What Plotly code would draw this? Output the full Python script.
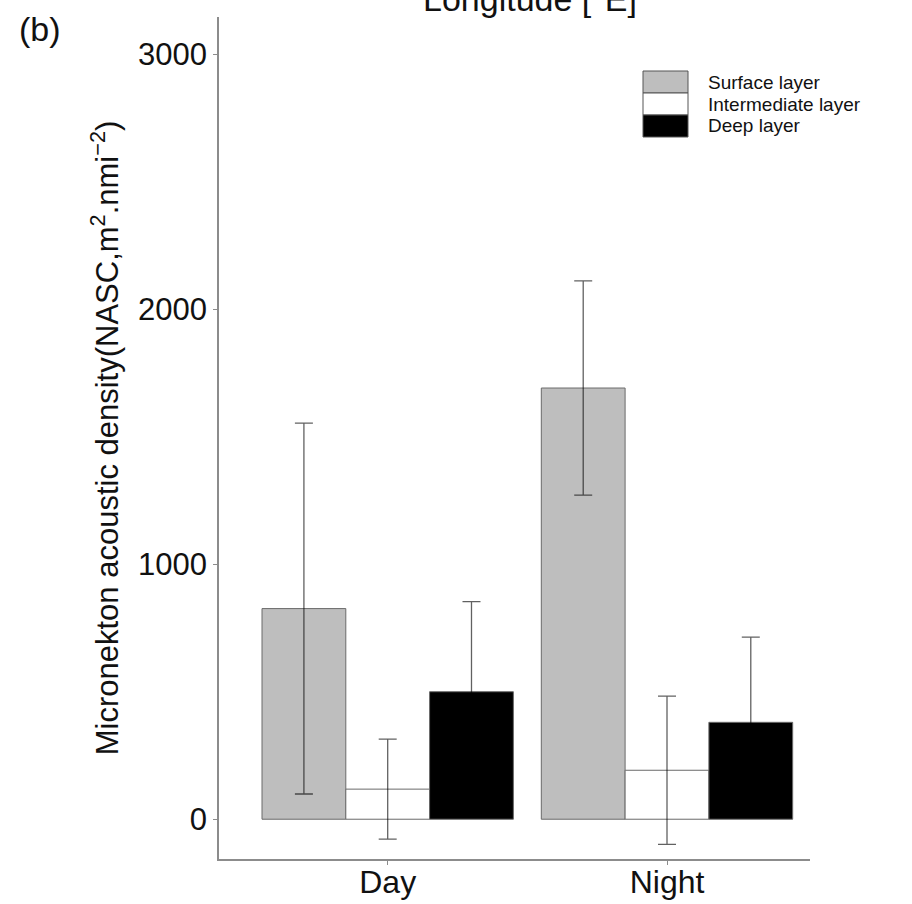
import plotly.graph_objects as go

categories = ["Day", "Night"]
layers = ["Surface layer", "Intermediate layer", "Deep layer"]
surface_mean = [826, 1691]
surface_sd = [727, 420]
intermediate_mean = [118, 192]
intermediate_sd = [196, 291]
deep_mean = [500, 380]
deep_sd = [353, 334]
fill_colors = ["#bebebe", "#ffffff", "#000000"]
y_ticks = [0, 1000, 2000, 3000]

FONT = "Liberation Sans, Arial, sans-serif"
W, H = 912, 904
L, R, T, B = 219, 102, 17, 45
pw, ph = W - L - R, H - T - B

fig = go.Figure()
for name, m, s, c in zip(layers, [surface_mean, intermediate_mean, deep_mean],
                         [surface_sd, intermediate_sd, deep_sd], fill_colors):
    fig.add_trace(go.Bar(
        x=categories, y=m, name=name,
        marker=dict(color=c, line=dict(color="#6a6a6a", width=1)),
        error_y=dict(type="data", array=s, visible=True,
                     color="rgba(0,0,0,0.62)", thickness=1.3, width=9),
        showlegend=False,
    ))

def px_x(p):
    return (p - L) / pw

def px_y(p):
    return (H - B - p) / ph

# legend drawn as boxes + labels
box_top = 71
row_h = 22
for i, (name, c) in enumerate(zip(layers, fill_colors)):
    y0 = box_top + i * row_h
    fig.add_shape(type="rect", xref="paper", yref="paper",
                  x0=px_x(643), x1=px_x(688), y0=px_y(y0 + row_h), y1=px_y(y0),
                  fillcolor=c, line=dict(color="#555555", width=1))
    fig.add_annotation(x=px_x(706), y=px_y(y0 + row_h / 2), xref="paper", yref="paper",
                       text=name, showarrow=False, xanchor="left", yanchor="middle",
                       font=dict(family=FONT, size=19, color="#111111"))

fig.add_annotation(x=px_x(40), y=px_y(29), xref="paper", yref="paper", text="(b)",
                   showarrow=False, xanchor="center", yanchor="middle",
                   font=dict(family=FONT, size=34, color="#111111"))
fig.add_annotation(x=px_x(530), y=1, xref="paper", yref="paper", text="Longitude [°E]",
                   showarrow=False, xanchor="center", yanchor="bottom", yshift=-3,
                   font=dict(family=FONT, size=34, color="#111111"))

fig.update_layout(
    width=W, height=H, autosize=False,
    margin=dict(l=L, r=R, t=T, b=B, pad=0, autoexpand=False),
    paper_bgcolor="white", plot_bgcolor="white",
    barmode="group", bargap=0.1, bargroupgap=0,
    font=dict(family=FONT, color="#111111"),
    xaxis=dict(range=[-0.604, 1.512], showline=True, linecolor="#8c8c8c", linewidth=1.5,
               ticks="outside", ticklen=4, tickcolor="#8c8c8c", showgrid=False,
               tickfont=dict(size=32, color="#111111"), zeroline=False, automargin=False,
               ticklabelstandoff=-10),
    yaxis=dict(range=[-156, 3146], tickvals=y_ticks, showline=True, linecolor="#8c8c8c",
               linewidth=1.5, ticks="outside", ticklen=4, tickcolor="#8c8c8c",
               showgrid=False, zeroline=False, tickfont=dict(size=31, color="#111111"),
               automargin=False,
               title=dict(text="Micronekton acoustic density(NASC,m<sup>2</sup>.nmi<sup>−2</sup>)",
                          font=dict(size=31, color="#111111"), standoff=10)),
)

fig.write_html(
    "out.html",
    config={"responsive": False, "displayModeBar": False},
    post_script="document.body.style.margin='0';document.body.style.overflow='hidden';",
)
